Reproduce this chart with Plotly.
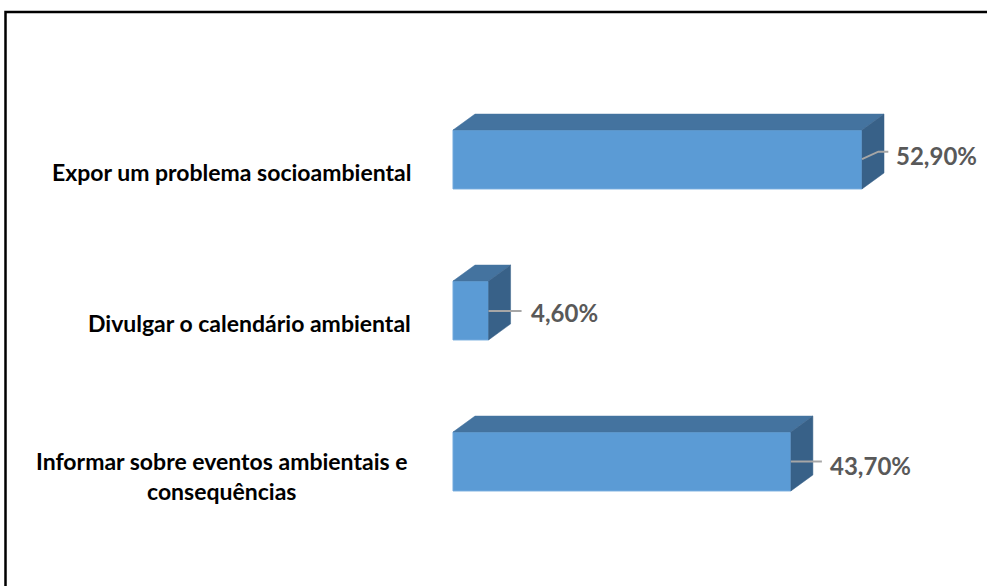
import plotly.graph_objects as go

# Survey results: purpose of the environmental posts (share of answers)
categories = [
    "Informar sobre eventos ambientais e<br>consequências",
    "Divulgar o calendário ambiental",
    "Expor um problema socioambiental",
]
values = [43.70, 4.60, 52.90]
value_labels = [f"{v:.2f}".replace(".", ",") + "%" for v in values]

# Figure geometry (pixels) and axis scales
W, H = 987, 586
PX_PER_UNIT = 7.732          # x scale
X0_PX = 453                  # pixel position of x = 0
Y_STEP_PX = 151              # distance between categories
Y0_PX = 461.5                # pixel position of the first category

x_min = -X0_PX / PX_PER_UNIT
x_max = (W - X0_PX) / PX_PER_UNIT
y_max = Y0_PX / Y_STEP_PX
y_min = (Y0_PX - H) / Y_STEP_PX

BAR_W = 0.39                 # bar thickness in category units
DX = 22 / PX_PER_UNIT        # 3-D depth, horizontal part
DY = 16 / Y_STEP_PX          # 3-D depth, vertical part

FRONT = "#5B9BD5"
TOP = "#44739F"
SIDE = "#386188"
LEADER = "#A6A6A6"
FONT = "Lato, 'Open Sans', sans-serif"

ys = list(range(len(categories)))

fig = go.Figure()

# Front faces
fig.add_trace(go.Bar(
    x=values, y=ys, orientation="h", width=BAR_W,
    marker=dict(color=FRONT, line=dict(color="#72AADD", width=1)),
    hoverinfo="skip", showlegend=False,
))

# Top and side faces of each box
for y, v in zip(ys, values):
    top = y + BAR_W / 2
    bot = y - BAR_W / 2
    fig.add_trace(go.Scatter(
        x=[0, v, v + DX, DX, 0], y=[top, top, top + DY, top + DY, top],
        fill="toself", fillcolor=TOP, mode="lines",
        line=dict(color=TOP, width=0.5), hoverinfo="skip", showlegend=False,
    ))
    fig.add_trace(go.Scatter(
        x=[v, v + DX, v + DX, v, v], y=[bot, bot + DY, top + DY, top, bot],
        fill="toself", fillcolor=SIDE, mode="lines",
        line=dict(color=SIDE, width=0.5), hoverinfo="skip", showlegend=False,
    ))

# Leader lines from each box to its value label
leaders = {
    0: ([0, 31 / PX_PER_UNIT], [0, 0]),
    1: ([0, 33 / PX_PER_UNIT], [-0.003, -0.003]),
    2: ([0, 16.3 / PX_PER_UNIT, 26.3 / PX_PER_UNIT], [0.003, 0.052, 0.052]),
}
for y, v in zip(ys, values):
    lx, ly = leaders[y]
    fig.add_trace(go.Scatter(
        x=[v + d for d in lx], y=[y + d for d in ly], mode="lines",
        line=dict(color=LEADER, width=2), hoverinfo="skip", showlegend=False,
    ))

# Value labels
label_shift = {0: (37, -3.5), 1: (40, -1.5), 2: (32, 4.5)}
for y, v, t in zip(ys, values, value_labels):
    sx, sy = label_shift[y]
    fig.add_annotation(
        x=v, y=y, text=t, showarrow=False, xanchor="left", yanchor="middle",
        xshift=sx, yshift=sy,
        font=dict(family=FONT, size=24, color="#595959", weight="bold"),
    )

# Category labels
for y, c in zip(ys, categories):
    if "<br>" in c:
        fig.add_annotation(
            x=-29.9, y=y, text=c, showarrow=False, xanchor="center", yanchor="middle",
            align="center", yshift=-14,
            font=dict(family=FONT, size=23, color="#000000", weight="bold"),
        )
    else:
        fig.add_annotation(
            x=-40 / PX_PER_UNIT, y=y, text=c, showarrow=False, xanchor="right", yanchor="middle",
            yshift=-12,
            font=dict(family=FONT, size=23, color="#000000", weight="bold"),
        )

# Chart frame (top and left edges)
fig.add_shape(
    type="path", xref="paper", yref="paper",
    path=f"M {5.5 / W} 0 L {5.5 / W} {1 - 12 / H} L 1.01 {1 - 12 / H}",
    line=dict(color="#000000", width=2.5),
)

fig.update_layout(
    width=W, height=H,
    margin=dict(l=0, r=0, t=0, b=0),
    paper_bgcolor="#FFFFFF", plot_bgcolor="#FFFFFF",
    xaxis=dict(range=[x_min, x_max], visible=False, fixedrange=True),
    yaxis=dict(range=[y_min, y_max], visible=False, fixedrange=True),
    showlegend=False,
)

fig.write_html("out.html")
